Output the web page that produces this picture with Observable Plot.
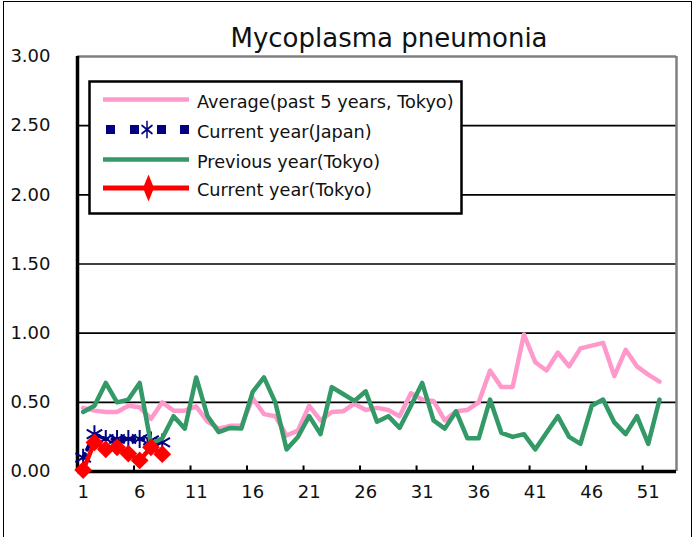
<!DOCTYPE html>
<html><head><meta charset="utf-8">
<script src="https://cdn.jsdelivr.net/npm/d3@7"></script>
<script src="https://cdn.jsdelivr.net/npm/@observablehq/plot@0.6"></script>
<style>
body{margin:0;background:#fff;}
#wrap{position:relative;width:694px;height:537px;overflow:hidden;font-family:"DejaVu Sans",sans-serif;}
#border{position:absolute;left:3px;top:1px;width:689px;height:600px;border:1px solid #000;box-sizing:border-box;}
#title{position:absolute;left:0;width:778px;top:25px;text-align:center;font-size:26px;line-height:26px;color:#111;white-space:nowrap;}
#wrap svg{position:absolute;left:0;top:0;}
</style></head><body><div id="wrap"><div id="border"></div></div>
<script>
// Weekly values (per sentinel), weeks 1..52
const avgPast5Tokyo = [0.46,0.44,0.43,0.43,0.475,0.465,0.38,0.50,0.44,0.44,0.47,0.36,0.31,0.33,0.33,0.53,0.415,0.40,0.26,0.295,0.475,0.37,0.43,0.435,0.49,0.445,0.46,0.445,0.40,0.565,0.52,0.51,0.37,0.435,0.445,0.50,0.73,0.61,0.61,0.99,0.79,0.73,0.86,0.76,0.89,0.91,0.93,0.69,0.88,0.76,0.70,0.65];
const currentJapan = [0.10,0.27,0.235,0.235,0.235,0.235,0.225,0.21];
const previousTokyo = [0.43,0.475,0.64,0.50,0.52,0.64,0.20,0.24,0.40,0.31,0.68,0.40,0.285,0.315,0.31,0.575,0.68,0.50,0.16,0.25,0.40,0.27,0.61,0.56,0.51,0.58,0.36,0.40,0.315,0.475,0.64,0.37,0.31,0.435,0.24,0.24,0.52,0.28,0.25,0.27,0.16,0.28,0.40,0.25,0.20,0.475,0.52,0.355,0.27,0.40,0.20,0.52];
const currentTokyo = [0.01,0.21,0.16,0.175,0.13,0.08,0.175,0.125];

const xTickLabels = [1,6,11,16,21,26,31,36,41,46,51];
const xTickMarks = [5.5,10.5,15.5,20.5,25.5,30.5,35.5,40.5,45.5,50.5];
const yTickValues = [0,0.5,1,1.5,2,2.5,3];
const yGridValues = [0.5,1,1.5,2,2.5];

const seriesNames = ["Average(past 5 years, Tokyo)","Current year(Japan)","Previous year(Tokyo)","Current year(Tokyo)"];
const titleText = "Mycoplasma pneumonia";

const toRows = arr => arr.map((v, i) => ({week: i + 1, value: v}));
const avgRows = toRows(avgPast5Tokyo);
const japanRows = toRows(currentJapan);
const prevRows = toRows(previousTokyo);
const tokyoRows = toRows(currentTokyo);

const PINK = "#ff99cc", NAVY = "#000080", GREEN = "#339966", RED = "#ff0000";

const chart = Plot.plot({
  width: 694, height: 537,
  marginLeft: 77, marginRight: 18, marginTop: 56, marginBottom: 66,
  style: {background: "transparent", fontFamily: "DejaVu Sans", fontSize: "18px", color: "#111"},
  x: {type: "linear", domain: [0.5, 53.5], axis: null},
  y: {domain: [0, 3], axis: null},
  marks: [
    Plot.ruleY(yGridValues, {stroke: "#000", strokeWidth: 1.6}),
    Plot.ruleY([3], {stroke: "#808080", strokeWidth: 2.5}),
    Plot.ruleX([53.5], {stroke: "#808080", strokeWidth: 2.5}),
    Plot.ruleX(xTickMarks, {y1: 0, y2: 0.04, stroke: "#000", strokeWidth: 2}),
    Plot.axisY({ticks: yTickValues, tickSize: 0, tickPadding: 27, tickFormat: d => d.toFixed(2), fontSize: 18, label: null}),
    Plot.axisX({ticks: xTickLabels, tickSize: 0, tickPadding: 14, tickFormat: d => String(d), fontSize: 18, label: null}),
    Plot.ruleX([0.5], {stroke: "#000", strokeWidth: 3.5}),
    Plot.ruleY([0], {stroke: "#000", strokeWidth: 3.5}),
    Plot.line(avgRows, {x: "week", y: "value", stroke: PINK, strokeWidth: 4.5}),
    Plot.line(japanRows, {x: "week", y: "value", stroke: NAVY, strokeWidth: 4, strokeDasharray: "4 5"}),
    Plot.dot(japanRows, {x: "week", y: "value", symbol: "asterisk", r: 8.5, stroke: NAVY, strokeWidth: 2}),
    Plot.line(prevRows, {x: "week", y: "value", stroke: GREEN, strokeWidth: 4.5}),
    Plot.line(tokyoRows, {x: "week", y: "value", stroke: RED, strokeWidth: 4.5}),
    Plot.dot(tokyoRows, {x: "week", y: "value", symbol: "diamond2", r: 8, fill: RED, stroke: "none"})
  ]
});
const wrap = document.getElementById("wrap");
wrap.appendChild(chart);

const title = document.createElement("div");
title.id = "title";
title.textContent = titleText;
wrap.appendChild(title);

// Legend
const leg = d3.create("svg").attr("width", 694).attr("height", 537).style("pointer-events", "none");
leg.append("rect").attr("x", 89.5).attr("y", 81.5).attr("width", 372).attr("height", 132)
  .attr("fill", "#fff").attr("stroke", "#000").attr("stroke-width", 2.5);
const rowsY = [99.5, 129.5, 159.5, 188];
leg.append("line").attr("x1", 103).attr("x2", 189).attr("y1", rowsY[0]).attr("y2", rowsY[0]).attr("stroke", PINK).attr("stroke-width", 4.5);
[106, 130, 157, 180].forEach(x => leg.append("rect").attr("x", x).attr("y", rowsY[1] - 4.5).attr("width", 9).attr("height", 9).attr("fill", NAVY));
leg.append("path").attr("transform", `translate(147,${rowsY[1]}) scale(0.75,1.05)`)
  .attr("d", d3.symbol(d3.symbolAsterisk, 200)()).attr("stroke", NAVY).attr("stroke-width", 2).attr("fill", "none");
leg.append("line").attr("x1", 103).attr("x2", 189).attr("y1", rowsY[2]).attr("y2", rowsY[2]).attr("stroke", GREEN).attr("stroke-width", 4.5);
leg.append("line").attr("x1", 103).attr("x2", 189).attr("y1", rowsY[3]).attr("y2", rowsY[3]).attr("stroke", RED).attr("stroke-width", 5);
leg.append("path").attr("d", `M148.5,${rowsY[3]-13.5}L154,${rowsY[3]}L148.5,${rowsY[3]+13.5}L143,${rowsY[3]}Z`).attr("fill", RED);
seriesNames.forEach((name, i) => {
  leg.append("text").attr("x", 197).attr("y", rowsY[i] + 8).text(name)
    .attr("font-family", "DejaVu Sans").attr("font-size", 17.7).attr("fill", "#111");
});
wrap.appendChild(leg.node());
</script>
</body></html>
